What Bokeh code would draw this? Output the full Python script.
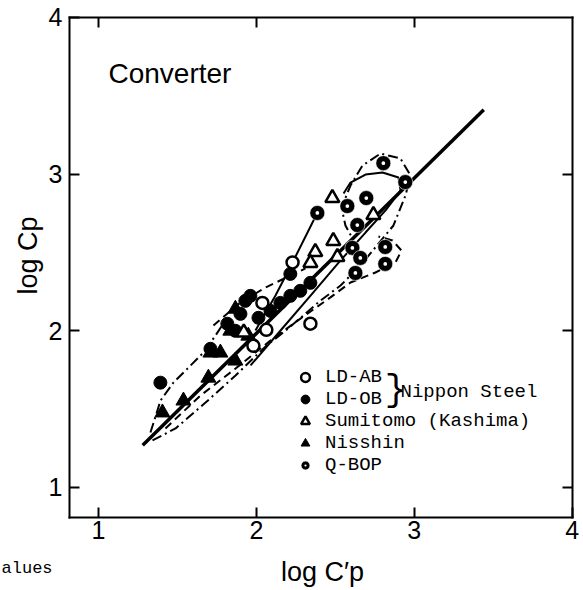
import math
from bokeh.plotting import figure
from bokeh.models import Range1d, FixedTicker, LinearAxis, Label, Legend, LegendItem
from bokeh.embed import file_html
from bokeh.resources import INLINE

# ---------------- data (log C'p , log Cp) ----------------
ld_ab_x = [2.229, 2.342, 2.038, 2.063, 1.981]
ld_ab_y = [2.436, 2.045, 2.178, 2.006, 1.904]

ld_ob_x = [1.392, 1.709, 1.816, 1.899, 1.962, 2.013, 2.152, 2.215, 2.278, 2.342, 2.215, 2.089, 1.867, 1.930]
ld_ob_y = [1.669, 1.885, 2.045, 2.108, 2.223, 2.083, 2.178, 2.223, 2.255, 2.306, 2.363, 2.127, 2.000, 2.191]

sumitomo_x = [2.481, 2.741, 2.487, 2.373, 2.513, 2.342, 1.920]
sumitomo_y = [2.847, 2.739, 2.573, 2.503, 2.471, 2.433, 1.990]

nisshin_x = [1.405, 1.538, 1.696, 1.709, 1.772, 1.867, 1.867, 1.949, 1.835]
nisshin_y = [1.478, 1.554, 1.700, 1.860, 1.860, 1.809, 2.140, 1.968, 2.000]

qbop_x = [2.386, 2.576, 2.696, 2.804, 2.943, 2.639, 2.608, 2.658, 2.627, 2.816, 2.816]
qbop_y = [2.752, 2.796, 2.847, 3.070, 2.949, 2.675, 2.529, 2.465, 2.369, 2.535, 2.427]

# regression line
fit_x = [1.28, 3.44]
fit_y = [1.27, 3.41]

# envelopes
env_solid1_x = [1.963, 2.153, 2.343, 2.533, 2.691, 2.818, 2.913, 2.900, 2.799, 2.691, 2.596, 2.552]
env_solid1_y = [1.779, 2.002, 2.225, 2.449, 2.627, 2.768, 2.895, 2.978, 3.010, 2.997, 2.946, 2.876]

env_solid2_x = [1.994, 2.121, 2.229, 2.387]
env_solid2_y = [2.002, 2.225, 2.436, 2.755]

env_dash1_x = [1.424, 1.646, 1.868, 2.089, 2.279, 2.469, 2.596, 2.754, 2.881, 2.919, 2.862, 2.773]
env_dash1_y = [1.377, 1.587, 1.759, 1.938, 2.078, 2.213, 2.308, 2.372, 2.436, 2.512, 2.576, 2.602]

env_dash2_x = [1.728, 1.899, 2.058, 2.216, 2.311]
env_dash2_y = [2.034, 2.181, 2.276, 2.353, 2.398]

env_dd1_x = [1.342, 1.488, 1.678, 1.868, 2.058, 2.216, 2.406, 2.533, 2.659, 2.868, 2.944, 2.976,
             2.912, 2.786, 2.672, 2.596, 2.539, 2.564, 2.609]
env_dd1_y = [1.300, 1.377, 1.542, 1.715, 1.900, 2.027, 2.193, 2.289, 2.417, 2.672, 2.863, 2.991,
             3.100, 3.131, 3.055, 2.927, 2.787, 2.672, 2.589]

env_dd2_x = [1.329, 1.393, 1.475, 1.665, 1.741, 1.804]
env_dd2_y = [1.351, 1.555, 1.670, 1.861, 1.970, 2.066]

ticks_main = [1, 2, 3, 4]
ticks_mirror = [1, 2, 3]
x_lo, x_hi = 0.815, 4.0
y_lo, y_hi = 0.81, 4.0

SANS = "Liberation Sans"
MONO = "Liberation Mono"

p = figure(width=583, height=590, output_backend="svg", toolbar_location=None,
           x_axis_location=None, y_axis_location=None,
           x_range=Range1d(0.3794, 4.0716), y_range=Range1d(0.3427, 4.1078),
           min_border_left=0, min_border_right=0, min_border_top=0, min_border_bottom=0)
p.grid.visible = False
p.outline_line_color = None


def make_axis(fixed, bounds, ticks, standoff, with_labels):
    ax = LinearAxis(fixed_location=fixed, bounds=bounds, ticker=FixedTicker(ticks=ticks),
                    major_tick_in=10, major_tick_out=0, minor_tick_line_color=None,
                    axis_line_width=2, major_tick_line_width=2, axis_line_cap="square",
                    major_label_standoff=standoff,
                    major_label_text_font=SANS, major_label_text_font_size="25px",
                    major_label_text_color="black")
    if not with_labels:
        ax.major_label_overrides = {t: "" for t in ticks}
    return ax


p.add_layout(make_axis(x_lo, (y_lo, y_hi + 0.001), ticks_main, 7, True), "left")
p.add_layout(make_axis(y_lo, (x_lo, x_hi + 0.001), ticks_main, 4, True), "below")
p.add_layout(make_axis(x_hi, (y_lo, y_hi), ticks_mirror, 0, False), "right")
p.add_layout(make_axis(y_hi, (x_lo, x_hi), ticks_mirror, 0, False), "above")

# envelopes
p.line(env_dd1_x, env_dd1_y, line_color="black", line_width=2, line_dash="10 4 2 4")
p.line(env_dd2_x, env_dd2_y, line_color="black", line_width=2, line_dash="10 4 2 4")
p.line(env_dash1_x, env_dash1_y, line_color="black", line_width=2, line_dash="8 5")
p.line(env_dash2_x, env_dash2_y, line_color="black", line_width=2, line_dash="8 5")
p.line(env_solid1_x, env_solid1_y, line_color="black", line_width=2)
p.line(env_solid2_x, env_solid2_y, line_color="black", line_width=2)
p.line(fit_x, fit_y, line_color="black", line_width=3.5)

# points
r_ob = p.scatter(ld_ob_x, ld_ob_y, marker="circle", size=13, fill_color="black", line_color="black")
r_ni = p.scatter(nisshin_x, nisshin_y, marker="triangle", size=15, fill_color="black", line_color="black")
r_su = p.scatter(sumitomo_x, sumitomo_y, marker="triangle", size=14, fill_color="white",
                 line_color="black", line_width=2.5)
r_ab = p.scatter(ld_ab_x, ld_ab_y, marker="circle", size=12, fill_color="white",
                 line_color="black", line_width=2.5)
r_qb = p.scatter(qbop_x, qbop_y, marker="circle_dot", size=15, fill_color="black",
                 line_color="white", line_width=0.6)

legend = Legend(items=[
    LegendItem(label="LD-AB", renderers=[r_ab]),
    LegendItem(label="LD-OB", renderers=[r_ob]),
    LegendItem(label="Sumitomo (Kashima)", renderers=[r_su]),
    LegendItem(label="Nisshin", renderers=[r_ni]),
    LegendItem(label="Q-BOP", renderers=[r_qb]),
], location=(293, 114), padding=0, margin=0, spacing=0, border_line_color=None,
    background_fill_alpha=0, label_text_font=MONO, label_text_font_size="19px",
    label_text_color="black", label_height=20, glyph_height=22, glyph_width=24, label_standoff=8)
p.add_layout(legend)

p.add_layout(Label(x=2.881, y=1.62, text="}", text_font=MONO, text_font_size="36px",
                   text_color="black", text_align="center", text_baseline="middle"))
p.add_layout(Label(x=2.913, y=1.61, text="Nippon Steel", text_font=MONO, text_font_size="19px",
                   text_color="black", text_align="left", text_baseline="middle"))

p.add_layout(Label(x=1.063, y=3.642, text="Converter", text_font=SANS, text_font_size="28px",
                   text_color="black", text_align="left", text_baseline="alphabetic"))

# axis titles and the caption fragment
p.add_layout(Label(x=2.419, y=0.4576, text="log C\u2032p", text_font=SANS, text_font_size="27px",
                   text_color="black", text_align="center", text_baseline="middle"))
p.add_layout(Label(x=0.5567, y=2.4805, text="log Cp", text_font=SANS, text_font_size="27px",
                   text_color="black", text_align="center", text_baseline="middle",
                   angle=math.pi / 2))
p.add_layout(Label(x=0.386, y=0.4831, text="alues", text_font=MONO, text_font_size="17px",
                   text_color="black", text_align="left", text_baseline="middle"))

open("out.html", "w").write(file_html(p, INLINE))
